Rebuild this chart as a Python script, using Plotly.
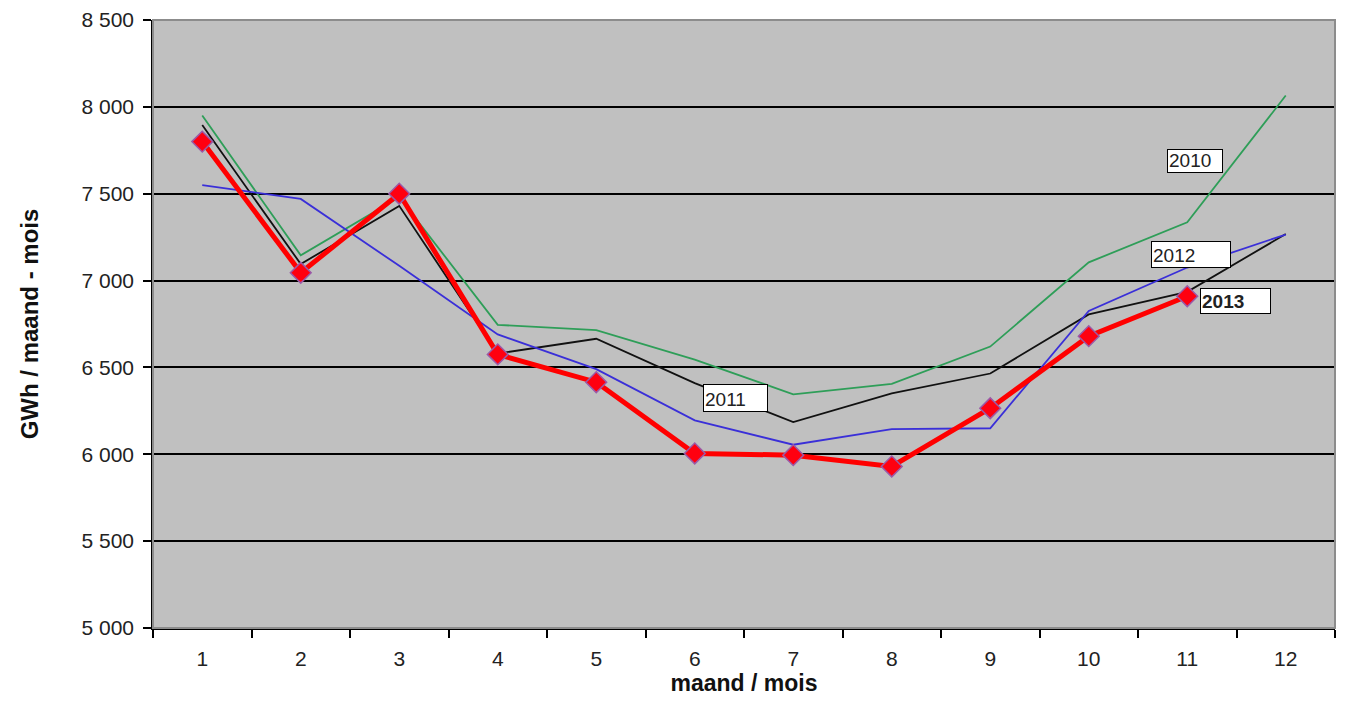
import plotly.graph_objects as go

months = ["1", "2", "3", "4", "5", "6", "7", "8", "9", "10", "11", "12"]
y2010 = [7950, 7145, 7480, 6745, 6715, 6545, 6345, 6405, 6620, 7105, 7335, 8065]
y2011 = [7895, 7095, 7430, 6580, 6665, 6410, 6185, 6350, 6465, 6805, 6935, 7268]
y2012 = [7550, 7470, 7085, 6690, 6490, 6195, 6055, 6145, 6150, 6825, 7075, 7265]
y2013 = [7800, 7045, 7500, 6575, 6415, 6005, 5995, 5930, 6265, 6680, 6910]

labels = ["2010", "2011", "2012", "2013"]
label_x = [10.08, 5.41, 10.04, 10.49]
label_y = [7687, 6323, 7148, 6885]

font = "Liberation Sans, Arial, sans-serif"

fig = go.Figure()
fig.add_trace(go.Scatter(x=months, y=y2010, mode="lines", line=dict(color="#2e9e58", width=1.8), name="2010"))
fig.add_trace(go.Scatter(x=months, y=y2011, mode="lines", line=dict(color="#111111", width=1.8), name="2011"))
fig.add_trace(go.Scatter(x=months, y=y2012, mode="lines", line=dict(color="#3a2fd8", width=1.8), name="2012"))
fig.add_trace(go.Scatter(x=months[:len(y2013)], y=y2013, mode="lines+markers",
                         line=dict(color="#ff0000", width=5),
                         marker=dict(symbol="diamond", size=16, color="#ff0010",
                                     line=dict(color="#9a5aa8", width=1.5)),
                         name="2013"))

box_w = {"2010": 56, "2011": 65, "2012": 80, "2013": 71}
box_h = {"2010": 24, "2011": 28, "2012": 27, "2013": 26}
for t, xv, yv in zip(labels, label_x, label_y):
    bold = t == "2013"
    fig.add_annotation(x=xv, y=yv, xref="x", yref="y",
                       text=("<b>%s</b>" % t) if bold else t,
                       showarrow=False, bgcolor="white", bordercolor="black", borderwidth=1,
                       borderpad=1, align="left", valign="bottom",
                       width=box_w[t] - 4, height=box_h[t] - 4,
                       font=dict(family=font, size=19, color="#222"))

fig.add_shape(type="rect", xref="paper", yref="paper", x0=0, x1=1, y0=0, y1=1,
              line=dict(color="#8c8c8c", width=2), layer="above")

fig.update_layout(
    width=1351, height=708,
    margin=dict(l=145, r=24, t=12, b=88, autoexpand=False),
    paper_bgcolor="white", plot_bgcolor="#c0c0c0",
    showlegend=False,
    separators=", ",
    font=dict(family=font, size=20, color="#222"),
    xaxis=dict(type="category", tickson="boundaries", ticks="outside", ticklen=8,
               tickcolor="black", tickwidth=1.5, showgrid=False, showline=True,
               linecolor="black", linewidth=1.5, range=[-0.5, 11.5],
               tickfont=dict(size=21), ticklabelstandoff=11,
               title=dict(text="<b>maand / mois</b>", font=dict(size=23, color="#111"), standoff=0)),
    yaxis=dict(range=[5000, 8500], dtick=500, tickformat=",d", ticks="outside", ticklen=8,
               tickcolor="black", tickwidth=1.5, showgrid=True, gridcolor="black", gridwidth=1.5,
               showline=True, linecolor="black", linewidth=1.5, zeroline=False,
               tickfont=dict(size=21), ticklabelstandoff=5, ticklabeloverflow="allow",
               title=dict(text="<b>GWh / maand - mois</b>", font=dict(size=24, color="#111"), standoff=36)),
)

fig.write_html("out.html")
